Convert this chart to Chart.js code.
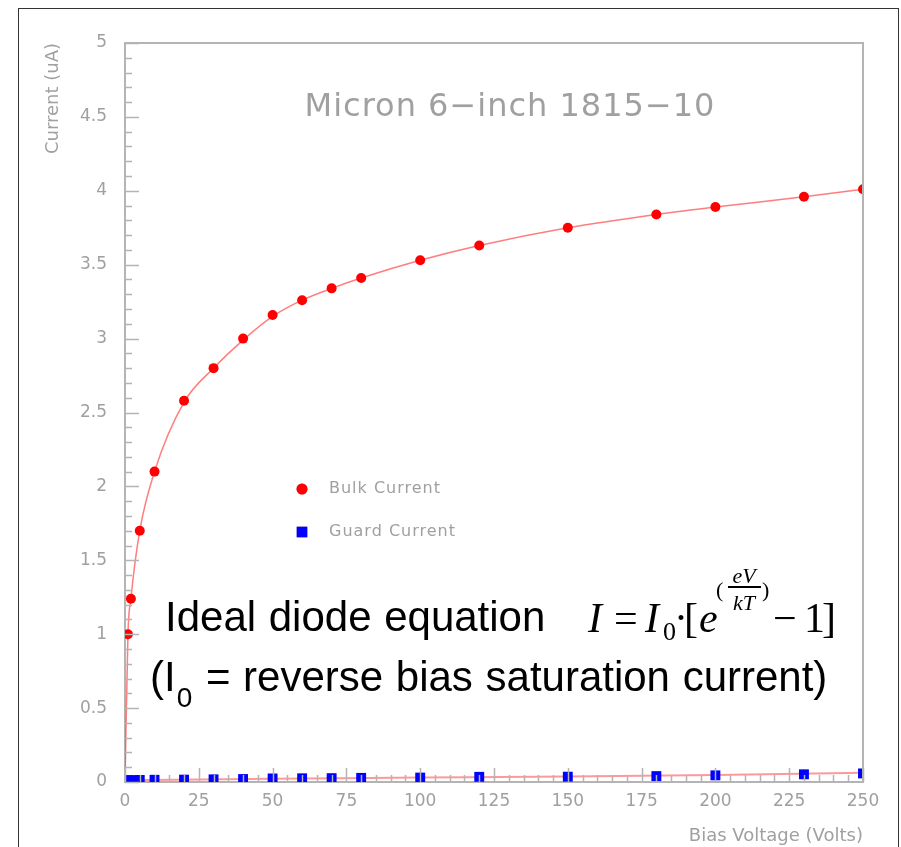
<!DOCTYPE html>
<html lang="en">
<head>
  <meta charset="UTF-8" />
  <title>Micron 6-inch 1815-10</title>
  <script src="https://cdn.jsdelivr.net/npm/chart.js"></script>
  <style>
    body { margin: 0; padding: 0; background: #fff; }
    .wrap { position: relative; width: 901px; height: 847px; overflow: hidden; }
    .frame {
      position: absolute; left: 18px; top: 8px; width: 881px; height: 860px;
      border: 1.5px solid #333; box-sizing: border-box;
    }
    .note {
      position: absolute; font-family: 'Liberation Sans', Arial, sans-serif;
      font-size: 42px; line-height: 1; color: #000; white-space: nowrap; word-spacing: 1px;
    }
    .sub0 { font-size: 28px; position: relative; top: 16px; margin-left: 1px; margin-right: 1px; }
    /* equation pieces, placed one by one on a common baseline */
    .m {
      position: absolute; font-family: 'Liberation Serif', 'Times New Roman', serif;
      font-size: 42px; line-height: 1; color: #000; white-space: nowrap;
    }
    .it { font-style: italic; }
    .s22 { font-size: 22px; }
    .s26 { font-size: 26px; }
    .c { width: 34px; text-align: center; }
    .bar { position: absolute; height: 2px; background: #000; }
  </style>
</head>
<body>
  <div class="wrap">
    <canvas id="chart" width="901" height="847"></canvas>
    <div class="frame"></div>
    <div class="note" style="left:165px; top:596px;">Ideal diode equation</div>
    <div class="m it" style="left:588px; top:597px;">I</div>
    <div class="m" style="left:614px; top:597px;">=</div>
    <div class="m it" style="left:645px; top:597px;">I</div>
    <div class="m s26" style="left:663px; top:619px;">0</div>
    <div class="m" style="left:674px; top:597px;">·</div>
    <div class="m" style="left:684px; top:597px;">[</div>
    <div class="m it" style="left:699px; top:597px;">e</div>
    <div class="m s22" style="left:716px; top:579px;">(</div>
    <div class="m s22 it c" style="left:727px; top:565px;">eV</div>
    <div class="bar" style="left:728px; top:586px; width:33px;"></div>
    <div class="m s22 it c" style="left:727px; top:592px;">kT</div>
    <div class="m s22" style="left:762px; top:579px;">)</div>
    <div class="m" style="left:773px; top:597px;">−</div>
    <div class="m" style="left:804px; top:597px;">1</div>
    <div class="m" style="left:822px; top:597px;">]</div>
    <div class="note" style="left:150px; top:656px;">(I<span class="sub0">0</span> = reverse bias saturation current)</div>
  </div>

  <script>
    // bias voltage (V) and measured currents (uA)
    const voltages = [1, 2, 5, 10, 20, 30, 40, 50, 60, 70, 80, 100, 120, 150, 180, 200, 230, 250];
    const bulkCurrent = [1.0, 1.24, 1.7, 2.1, 2.58, 2.8, 3.0, 3.16, 3.26, 3.34, 3.41, 3.53, 3.63, 3.75, 3.84, 3.89, 3.96, 4.01];
    const guardCurrent = [0.012, 0.013, 0.014, 0.015, 0.016, 0.018, 0.02, 0.024, 0.025, 0.026, 0.028, 0.03, 0.035, 0.036, 0.04, 0.045, 0.052, 0.058];
    // fitted curves drawn through the measurements
    const bulkFitV = [0, 1, 2, 5, 10, 20, 30, 40, 50, 60, 70, 80, 100, 120, 150, 180, 200, 230, 250];
    const bulkFitI = [0, 1.0, 1.24, 1.7, 2.1, 2.57, 2.8, 2.99, 3.15, 3.26, 3.34, 3.41, 3.53, 3.63, 3.75, 3.84, 3.89, 3.96, 4.01];
    const guardFitV = [0, 50, 100, 150, 200, 250];
    const guardFitI = [0.012, 0.022, 0.03, 0.038, 0.048, 0.062];

    const xTicks = [0, 25, 50, 75, 100, 125, 150, 175, 200, 225, 250];
    const yTicks = [0, 0.5, 1, 1.5, 2, 2.5, 3, 3.5, 4, 4.5, 5];

    const title = 'Micron 6\u2212inch 1815\u221210';
    const seriesNames = ['Bulk Current', 'Guard Current'];

    const pts = (xs, ys) => xs.map((x, i) => ({ x: x, y: ys[i] }));
    const axisGray = '#b4b4b4';
    const textGray = '#a0a0a0';

    // ROOT style ticks drawn inward, plus closing box, title and legend
    const frameTicks = {
      id: 'frameTicks',
      afterDatasetsDraw(chart) {
        const { ctx, chartArea: a, scales } = chart;
        ctx.save();
        ctx.strokeStyle = axisGray;
        ctx.lineWidth = 2;
        ctx.beginPath();
        ctx.moveTo(a.left, a.top); ctx.lineTo(a.right, a.top); ctx.lineTo(a.right, a.bottom);
        ctx.stroke();
        ctx.lineWidth = 1.5;
        ctx.beginPath();
        for (let v = 0; v <= 50; v++) {
          const y = Math.round(scales.y.getPixelForValue(v / 10)) + 0.5;
          const len = v % 5 === 0 ? 14 : 7;
          ctx.moveTo(a.left, y); ctx.lineTo(a.left + len, y);
        }
        for (let v = 0; v <= 250; v += 5) {
          const x = Math.round(scales.x.getPixelForValue(v)) + 0.5;
          const len = v % 25 === 0 ? 14 : 7;
          ctx.moveTo(x, a.bottom); ctx.lineTo(x, a.bottom - len);
        }
        ctx.stroke();
        ctx.restore();
      },
      afterDraw(chart) {
        const { ctx } = chart;
        ctx.save();
        ctx.fillStyle = textGray;
        ctx.font = '32px "DejaVu Sans"';
        ctx.letterSpacing = '1px';
        ctx.textAlign = 'center';
        ctx.textBaseline = 'alphabetic';
        ctx.fillText(title, 510, 116);
        // legend
        ctx.font = '16px "DejaVu Sans"';
        ctx.letterSpacing = '1px';
        ctx.textAlign = 'left';
        ctx.textBaseline = 'middle';
        const ds = chart.data.datasets;
        const rows = [[ds[2], 489], [ds[3], 532]];
        rows.forEach(([d, y]) => {
          ctx.beginPath();
          Chart.helpers.drawPoint(ctx, {
            pointStyle: d.pointStyle, radius: d.pointRadius + 0.5, rotation: 0, borderWidth: 0
          }, 302, y);
          ctx.fillStyle = d.backgroundColor;
          ctx.fill();
          ctx.fillStyle = textGray;
          ctx.fillText(d.label, 329, y);
        });
        ctx.restore();
      }
    };

    const tickFont = { family: 'DejaVu Sans', size: 17 };

    new Chart(document.getElementById('chart'), {
      type: 'scatter',
      data: {
        datasets: [
          {
            label: 'bulk fit', data: pts(bulkFitV, bulkFitI), showLine: true,
            borderColor: 'rgba(255,70,70,0.7)', borderWidth: 1.5, pointRadius: 0,
            cubicInterpolationMode: 'monotone', order: 3
          },
          {
            label: 'guard fit', data: pts(guardFitV, guardFitI), showLine: true,
            borderColor: 'rgba(255,70,70,0.55)', borderWidth: 2, pointRadius: 0,
            cubicInterpolationMode: 'monotone', order: 3
          },
          {
            label: seriesNames[0], data: pts(voltages, bulkCurrent),
            backgroundColor: '#ff0000', borderWidth: 0, pointStyle: 'circle', pointRadius: 5, order: 1
          },
          {
            label: seriesNames[1], data: pts(voltages, guardCurrent),
            backgroundColor: '#0000ff', borderWidth: 0, pointStyle: 'rect', pointRadius: 7, order: 1
          }
        ]
      },
      options: {
        responsive: false,
        animation: false,
        layout: { padding: { left: 0, top: 43, right: 38, bottom: 0 } },
        plugins: { legend: { display: false }, tooltip: { enabled: false } },
        scales: {
          x: {
            type: 'linear', min: 0, max: 250,
            afterFit(s) { s.height = 65; },
            afterBuildTicks(s) { s.ticks = xTicks.map(v => ({ value: v })); },
            grid: { drawOnChartArea: false, drawTicks: false },
            border: { color: axisGray, width: 2 },
            ticks: { padding: 9, color: textGray, font: tickFont, maxRotation: 0, callback: v => String(v) },
            title: {
              display: true, text: 'Bias Voltage (Volts)', align: 'end', color: textGray,
              font: { family: 'DejaVu Sans', size: 18 }, padding: { top: 10, bottom: 0 }
            }
          },
          y: {
            type: 'linear', min: 0, max: 5,
            afterFit(s) { s.width = 125; },
            afterBuildTicks(s) { s.ticks = yTicks.map(v => ({ value: v })); },
            grid: { drawOnChartArea: false, drawTicks: false },
            border: { color: axisGray, width: 2 },
            ticks: { padding: 18, color: textGray, font: tickFont, callback: v => String(v) },
            title: {
              display: true, text: 'Current (uA)', align: 'end', color: textGray,
              font: { family: 'DejaVu Sans', size: 18 }, padding: { top: 43, bottom: 0 }
            }
          }
        }
      },
      plugins: [frameTicks]
    });
  </script>
</body>
</html>
